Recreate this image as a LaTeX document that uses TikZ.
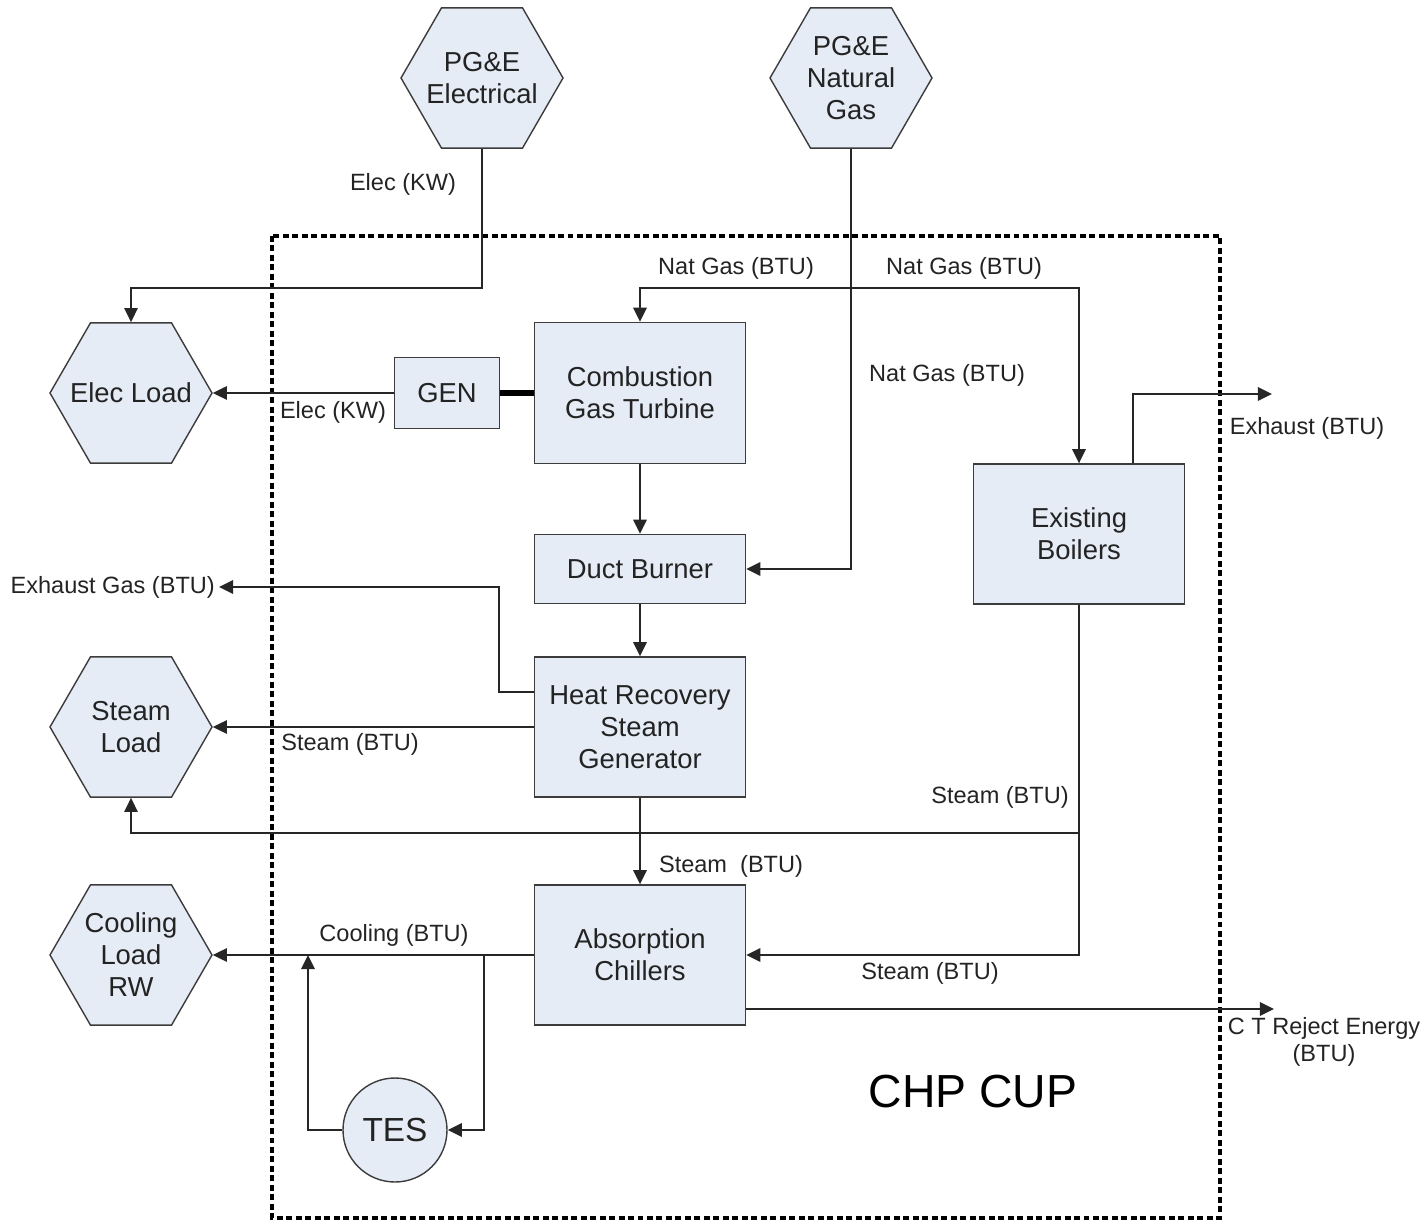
\documentclass[tikz,border=0pt]{standalone}
\usepackage{fontspec}
\setmainfont{Liberation Sans}
\usetikzlibrary{shapes.geometric}
\usetikzlibrary{arrows.meta}
\usetikzlibrary{calc}
\usepackage{xcolor}
\definecolor{boxfill}{RGB}{230,236,246}
\definecolor{boxline}{RGB}{60,60,60}
\definecolor{txtgray}{RGB}{35,35,35}

\begin{document}
\begin{tikzpicture}[x=1cm, y=1cm]
        % ================= styles =================
        \tikzset{
            % sources and loads (hexagons)
            hexnode/.style={regular polygon, regular polygon sides=6, minimum size=16.2mm, inner sep=-2.5mm, draw=boxline, fill=boxfill, align=center, text=txtgray, font=\fontsize{7.8}{9.1}\selectfont},
            % plant equipment
            unitbox/.style={rectangle, draw=boxline, fill=boxfill, minimum width=21.1mm, minimum height=14mm, inner sep=0pt, align=center, text=txtgray, font=\fontsize{7.8}{9.1}\selectfont},
            % storage tank
            tesnode/.style={circle, draw=boxline, fill=boxfill, minimum size=10.4mm, inner sep=0pt, text=txtgray, font=\fontsize{9.5}{11}\selectfont},
            % flow labels
            flowlabel/.style={inner sep=1pt, align=center, text=txtgray, font=\fontsize{6.7}{7.9}\selectfont},
            % connectors
            flow/.style={draw=black!85, line width=0.5pt, -{Triangle[length=4pt,width=3.8pt]}},
            pipe/.style={draw=black!85, line width=0.5pt},
            shaft/.style={line width=1.8pt, black},
            cupbox/.style={line width=0.9pt, dash pattern=on 1.7pt off 1pt, black}
        }
        \useasboundingbox (0,0) rectangle (14.24,-12.25);

        % ================= CHP boundary =================
        \draw[cupbox] (2.72,-2.36) rectangle (12.20,-12.18);
        \node[font=\fontsize{13.2}{15}\selectfont, text=black] (chp) at (9.73,-10.92) {CHP CUP};

        % ================= sources =================
        \node[hexnode] (pgeel) at (4.82,-0.78) {PG\&E\\Electrical};
        \node[hexnode] (pgegas) at (8.51,-0.78) {PG\&E\\Natural\\Gas};

        % ================= loads =================
        \node[hexnode] (elecload) at (1.31,-3.93) {Elec Load};
        \node[hexnode] (steamload) at (1.31,-7.27) {Steam\\Load};
        \node[hexnode] (coolload) at (1.31,-9.55) {Cooling\\Load\\RW};

        % ================= equipment =================
        \node[unitbox, minimum width=10.5mm, minimum height=7.1mm] (gen) at (4.47,-3.93) {GEN};
        \node[unitbox, minimum height=14.1mm] (cgt) at (6.40,-3.93) {Combustion\\Gas Turbine};
        \node[unitbox, minimum height=6.9mm] (duct) at (6.40,-5.69) {Duct Burner};
        \node[unitbox] (hrsg) at (6.40,-7.27) {Heat Recovery\\Steam\\Generator};
        \node[unitbox] (abs) at (6.40,-9.55) {Absorption\\Chillers};
        \node[unitbox] (boil) at (10.79,-5.34) {Existing\\Boilers};
        \node[tesnode] (tes) at (3.95,-11.30) {TES};

        % ================= junctions and free ends =================
        \coordinate (gasT) at (8.51,-2.88);
        \coordinate (stj) at (10.79,-8.33);
        \coordinate (tesj) at (4.84,-9.55);
        \coordinate (coolj) at (3.08,-9.55);
        \coordinate (exh) at (12.72,-3.94);
        \coordinate (ctrej) at (12.74,-10.09);

        % ================= labels =================
        \node[flowlabel] (lbelec1) at (4.03,-1.84) {Elec (KW)};
        \node[flowlabel] (lbelec2) at (3.33,-4.12) {Elec (KW)};
        \node[flowlabel] (lbgas1) at (7.36,-2.68) {Nat Gas (BTU)};
        \node[flowlabel] (lbgas2) at (9.64,-2.68) {Nat Gas (BTU)};
        \node[flowlabel] (lbgas3) at (9.47,-3.75) {Nat Gas (BTU)};
        \node[flowlabel] (lbexh) at (13.07,-4.28) {Exhaust (BTU)};
        \node[flowlabel, anchor=east] (exgas) at (2.19,-5.87) {Exhaust Gas (BTU)};
        \node[flowlabel] (lbsteam1) at (3.50,-7.44) {Steam (BTU)};
        \node[flowlabel] (lbsteam2) at (10.00,-7.97) {Steam (BTU)};
        \node[flowlabel] (lbsteam3) at (7.31,-8.66) {Steam~~(BTU)};
        \node[flowlabel] (lbsteam4) at (9.30,-9.73) {Steam (BTU)};
        \node[flowlabel] (lbcool) at (3.94,-9.35) {Cooling (BTU)};
        \node[flowlabel] (lbrej) at (13.24,-10.42) {C T Reject Energy\\(BTU)};

        % ================= electricity =================
        \draw[flow] (pgeel.south) |- (gasT -| elecload.north) -- (elecload.north);
        \draw[flow] (gen.west) -- (elecload.east);
        \draw[shaft] (gen.east) -- (cgt.west);

        % ================= natural gas =================
        \draw[flow] (pgegas.south) |- (duct.east);
        \draw[flow] (gasT) -| (cgt.north);
        \draw[flow] (gasT) -| (boil.north);

        % ================= gas path through the turbine =================
        \draw[flow] (cgt.south) -- (duct.north);
        \draw[flow] (duct.south) -- (hrsg.north);
        \draw[flow] ([yshift=3.5mm]hrsg.west) -- ++(-0.35,0) |- (exgas.east);
        \draw[flow] ([xshift=5.4mm]boil.north) |- (exh);

        % ================= steam =================
        \draw[flow] (hrsg.west) -- (steamload.east);
        \draw[flow] (hrsg.south) -- (abs.north);
        \draw[pipe] (boil.south) -- (stj);
        \draw[flow] (stj) -| (steamload.south);
        \draw[flow] (stj) |- (abs.east);

        % ================= cooling =================
        \draw[flow] (abs.west) -- (coolload.east);
        \draw[flow] (tesj) |- (tes.east);
        \draw[flow] (tes.west) -| (coolj);
        \draw[flow] ([yshift=-5.4mm]abs.east) -- (ctrej);

\end{tikzpicture}
\end{document}
